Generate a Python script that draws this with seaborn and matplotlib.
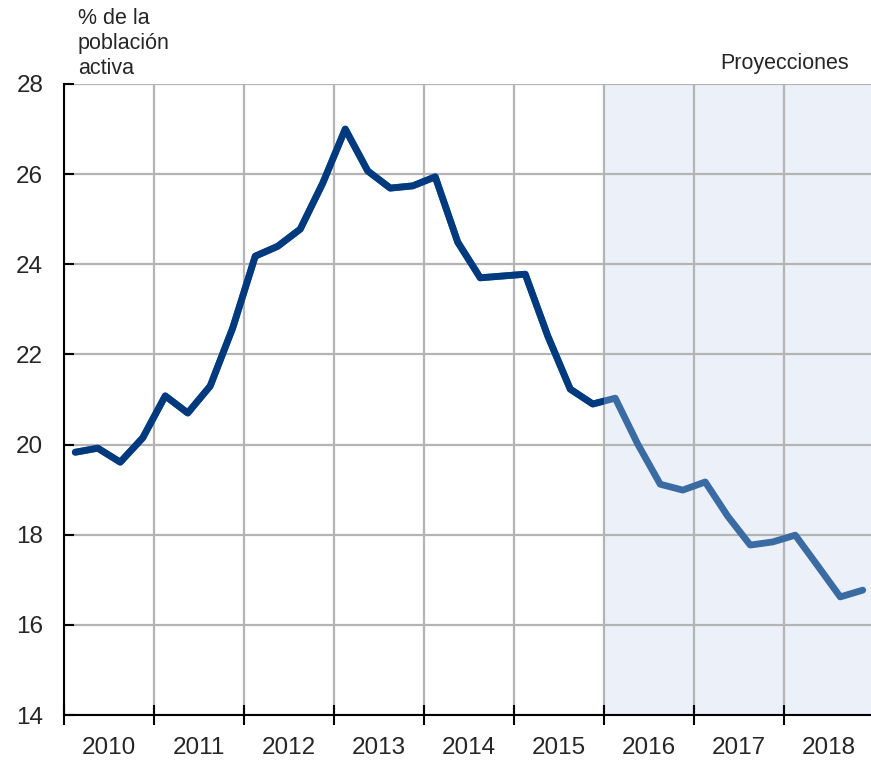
import numpy as np
import pandas as pd
import matplotlib.pyplot as plt
import seaborn as sns
from matplotlib.patches import Rectangle

years = [2010, 2011, 2012, 2013, 2014, 2015, 2016, 2017, 2018]
quarters = [1, 2, 3, 4]
paro = [19.83, 19.92, 19.61, 20.15,
        21.08, 20.70, 21.30, 22.59,
        24.18, 24.40, 24.78, 25.80,
        27.00, 26.07, 25.69, 25.74,
        25.94, 24.49, 23.70, 23.74,
        23.78, 22.41, 21.23, 20.90,
        21.03, 20.01, 19.12, 18.99,
        19.17, 18.41, 17.77, 17.84,
        17.99, 17.31, 16.62, 16.77]
inicio_proy = 2016

pos = [y + (q - 0.5) / 4 for y in years for q in quarters]
df = pd.DataFrame({'t': pos, 'paro': paro})

sns.set_style('white')
plt.rcParams['font.family'] = ['Liberation Sans', 'DejaVu Sans']

fig = plt.figure(figsize=(8.71, 7.63), dpi=100)
ax = fig.add_axes([64 / 871, 1 - 715 / 763, 810 / 871, 631 / 763])

ax.axvspan(inicio_proy, 2019, color='#ECF0F8', zorder=0, lw=0)

# linea completa en color claro; encima la parte historica en azul oscuro
sns.lineplot(data=df, x='t', y='paro', ax=ax, color='#3A6BA3', lw=4.9, zorder=3)
sns.lineplot(data=df, x='t', y='paro', ax=ax, color='#003A7E', lw=4.9, zorder=4)
clip = Rectangle((2009, 10), inicio_proy - 2009, 30, transform=ax.transData)
ax.lines[-1].set_clip_path(clip)

ax.set_xlim(2010, 2019)
ax.set_ylim(14, 28)
ax.set_xticks(range(2010, 2020))
ax.set_xticks([y + 0.5 for y in years], minor=True)
ax.set_xticklabels([])
ax.set_xticklabels([str(y) for y in years], minor=True)
ax.set_yticks(range(14, 29, 2))
ax.grid(True, which='major', color='#B4B4B4', lw=1.6, zorder=1)
ax.set_axisbelow(True)

ax.tick_params(axis='x', which='major', bottom=True, direction='inout', length=15,
               width=1.5, color='black')
ax.tick_params(axis='x', which='minor', bottom=True, length=0, pad=16, labelsize=17.5)
ax.tick_params(axis='y', left=True, direction='in', length=7, width=1.5, color='black',
               pad=15, labelsize=17.5)

for s in ['top', 'right']:
    ax.spines[s].set_visible(False)
for s in ['left', 'bottom']:
    ax.spines[s].set_color('black')
    ax.spines[s].set_linewidth(1.5)
    ax.spines[s].set_zorder(5)

ax.set_xlabel('')
ax.set_ylabel('')

fig.text(78 / 871, 1 - 8 / 763, '% de la\npoblación\nactiva', ha='left', va='top',
         fontsize=15.5, linespacing=1.25)
fig.text(849 / 871, 1 - 63 / 763, 'Proyecciones', ha='right', va='center', fontsize=15.5)

fig.savefig('out.png', dpi=100)
